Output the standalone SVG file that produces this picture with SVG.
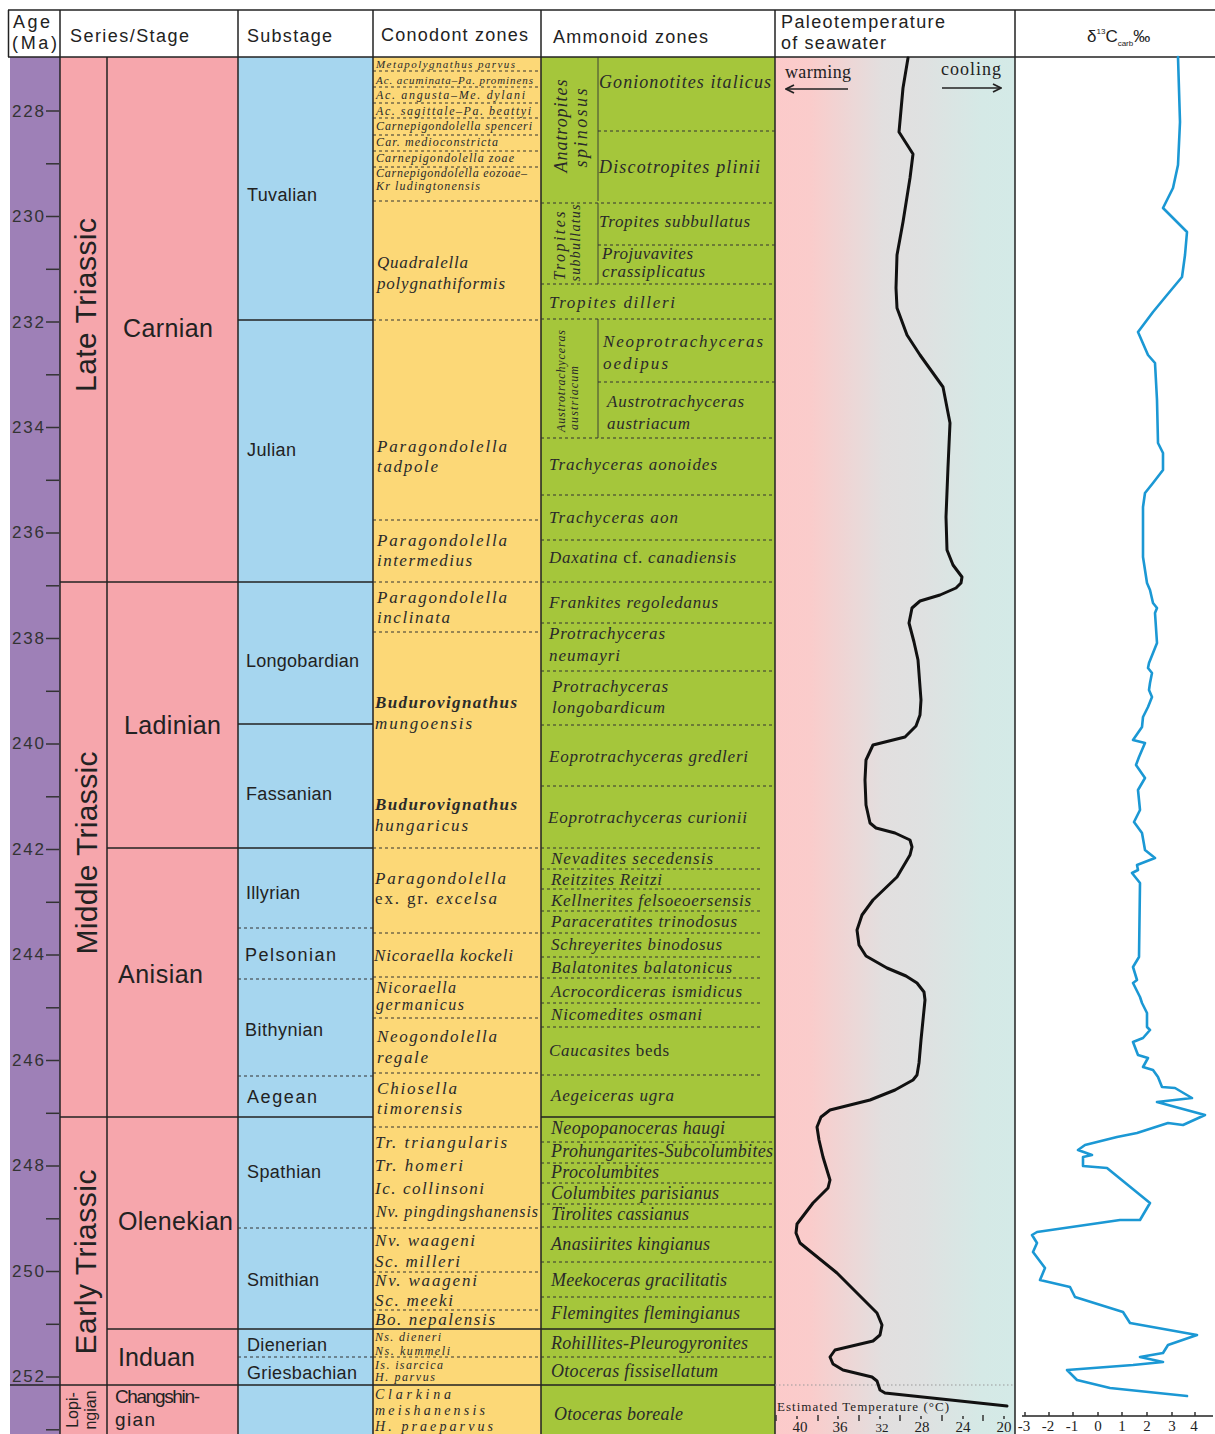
<svg xmlns="http://www.w3.org/2000/svg" width="1215" height="1434" viewBox="0 0 1215 1434">
<defs>
<linearGradient id="tg" x1="0" x2="1" y1="0" y2="0">
<stop offset="0" stop-color="#fccaca"/>
<stop offset="0.15" stop-color="#facccb"/>
<stop offset="0.45" stop-color="#e2dfdf"/>
<stop offset="0.62" stop-color="#dfe1e1"/>
<stop offset="0.86" stop-color="#d5e9e6"/>
<stop offset="1" stop-color="#d4eae7"/>
</linearGradient>
<marker id="chev" viewBox="0 0 10 10" refX="9" refY="5" markerWidth="10" markerHeight="10" markerUnits="userSpaceOnUse" orient="auto">
<path d="M1,1 L9,5 L1,9" fill="none" stroke="#222" stroke-width="1.8"/>
</marker>
<style>
.hd{font-family:"Liberation Sans",Arial,sans-serif;font-size:18px;fill:#222}
.age{font-family:"Liberation Sans",Arial,sans-serif;font-size:17px;fill:#333}
.ser{font-family:"Liberation Sans",Arial,sans-serif;font-size:30px;fill:#222}
.stg{font-family:"Liberation Sans",Arial,sans-serif;font-size:25px;fill:#222}
.sub{font-family:"Liberation Sans",Arial,sans-serif;font-size:18px;fill:#222}
.zn{font-family:"Liberation Serif","Times New Roman",serif;font-style:italic;fill:#2a2a2a;font-size:17px}
.zn.zs{font-size:12px}
.zn.zx{font-size:11px}
.zn.za{font-size:18px}
.zn.z16{font-size:16px}
.zn.z14{font-size:14px}
.zn.z12{font-size:12px}
.rm{font-style:normal}
.bd{font-weight:bold}
.ln{stroke:#222;stroke-width:1.5;fill:none}
.thin{stroke:#333;stroke-width:0.9;fill:none}
.dot{stroke:#333;stroke-width:1;stroke-dasharray:3 3;fill:none}
.tick{stroke:#333;stroke-width:1.5}
.ax{font-family:"Liberation Serif","Times New Roman",serif;font-size:15px;fill:#222}
</style>
</defs>
<rect x="0" y="0" width="1215" height="1434" fill="#fff"/>

<g id="backgrounds">
<rect x="10" y="57" width="50" height="1377" fill="#9e80b7"/>
<rect x="60" y="57" width="178" height="1377" fill="#f6a6ac"/>
<rect x="238" y="57" width="135" height="1377" fill="#a6d6ef"/>
<rect x="373" y="57" width="168" height="1377" fill="#fcd877"/>
<rect x="541" y="57" width="234" height="1377" fill="#a5c63b"/>
<rect x="775" y="57" width="240" height="1377" fill="url(#tg)"/>
</g>

<g id="header">
<line class="ln" x1="8" y1="10" x2="1215" y2="10"/>
<line class="ln" x1="8" y1="57" x2="1215" y2="57"/>
<line class="ln" x1="8.5" y1="10" x2="8.5" y2="57"/>
<text class="hd" x="13" y="28" textLength="37">Age</text>
<text class="hd" x="12" y="49" textLength="45">(Ma)</text>
<text class="hd" x="70" y="42" textLength="119">Series/Stage</text>
<text class="hd" x="247" y="42" textLength="85">Substage</text>
<text class="hd" x="381" y="41" textLength="147">Conodont zones</text>
<text class="hd" x="553" y="43" textLength="155">Ammonoid zones</text>
<text class="hd" x="781" y="28" textLength="164">Paleotemperature</text>
<text class="hd" x="781" y="49" textLength="105">of seawater</text>
<text class="hd" x="1087" y="42" style="font-size:17px">δ<tspan style="font-size:8px" dy="-8">13</tspan><tspan dy="8">C</tspan><tspan style="font-size:8px" dy="4">carb</tspan><tspan dy="-4">‰</tspan></text>
</g>

<g id="grid">
<line class="ln" x1="60" y1="10" x2="60" y2="1434"/>
<line class="ln" x1="107" y1="57" x2="107" y2="1434"/>
<line class="ln" x1="238" y1="10" x2="238" y2="1434"/>
<line class="ln" x1="373" y1="10" x2="373" y2="1434"/>
<line class="ln" x1="541" y1="10" x2="541" y2="1434"/>
<line class="ln" x1="775" y1="10" x2="775" y2="1434"/>
<line class="ln" x1="1015" y1="10" x2="1015" y2="1434"/>
<line class="ln" x1="60" y1="582" x2="373" y2="582"/>
<line class="ln" x1="107" y1="848" x2="373" y2="848"/>
<line class="ln" x1="60" y1="1117" x2="373" y2="1117"/>
<line class="ln" x1="541" y1="1117" x2="775" y2="1117"/>
<line class="ln" x1="107" y1="1329" x2="775" y2="1329"/>
<line class="ln" x1="10" y1="1385" x2="775" y2="1385"/>
<line class="ln" x1="238" y1="320" x2="373" y2="320"/>
<line class="ln" x1="238" y1="724" x2="373" y2="724"/>
<line class="dot" x1="238" y1="928" x2="373" y2="928"/>
<line class="dot" x1="238" y1="979" x2="373" y2="979"/>
<line class="dot" x1="238" y1="1076" x2="373" y2="1076"/>
<line class="dot" x1="238" y1="1228" x2="373" y2="1228"/>
<line class="dot" x1="238" y1="1357" x2="373" y2="1357"/>
</g>

<g id="age-axis">
<g class="tick">
<line x1="46" y1="111" x2="59" y2="111"/><line x1="46" y1="163.8" x2="59" y2="163.8"/>
<line x1="46" y1="216.5" x2="59" y2="216.5"/><line x1="46" y1="269.3" x2="59" y2="269.3"/>
<line x1="46" y1="322" x2="59" y2="322"/><line x1="46" y1="374.8" x2="59" y2="374.8"/>
<line x1="46" y1="427.5" x2="59" y2="427.5"/><line x1="46" y1="480.3" x2="59" y2="480.3"/>
<line x1="46" y1="533" x2="59" y2="533"/><line x1="46" y1="585.8" x2="59" y2="585.8"/>
<line x1="46" y1="638.5" x2="59" y2="638.5"/><line x1="46" y1="691.3" x2="59" y2="691.3"/>
<line x1="46" y1="744" x2="59" y2="744"/><line x1="46" y1="796.8" x2="59" y2="796.8"/>
<line x1="46" y1="849.5" x2="59" y2="849.5"/><line x1="46" y1="902.3" x2="59" y2="902.3"/>
<line x1="46" y1="955" x2="59" y2="955"/><line x1="46" y1="1007.8" x2="59" y2="1007.8"/>
<line x1="46" y1="1060.5" x2="59" y2="1060.5"/><line x1="46" y1="1113.3" x2="59" y2="1113.3"/>
<line x1="46" y1="1166" x2="59" y2="1166"/><line x1="46" y1="1218.8" x2="59" y2="1218.8"/>
<line x1="46" y1="1271.5" x2="59" y2="1271.5"/><line x1="46" y1="1324.3" x2="59" y2="1324.3"/>
<line x1="46" y1="1377" x2="59" y2="1377"/><line x1="46" y1="1429.8" x2="59" y2="1429.8"/>
</g>
<text class="age" x="12" y="117" textLength="32">228</text>
<text class="age" x="12" y="222" textLength="32">230</text>
<text class="age" x="12" y="328" textLength="32">232</text>
<text class="age" x="12" y="433" textLength="32">234</text>
<text class="age" x="12" y="538" textLength="32">236</text>
<text class="age" x="12" y="644" textLength="32">238</text>
<text class="age" x="12" y="749" textLength="32">240</text>
<text class="age" x="12" y="855" textLength="32">242</text>
<text class="age" x="12" y="960" textLength="32">244</text>
<text class="age" x="12" y="1066" textLength="32">246</text>
<text class="age" x="12" y="1171" textLength="32">248</text>
<text class="age" x="12" y="1277" textLength="32">250</text>
<text class="age" x="12" y="1382" textLength="32">252</text>
</g>

<g id="series">
<text class="ser" transform="translate(96,305) rotate(-90)" text-anchor="middle" textLength="174">Late Triassic</text>
<text class="ser" transform="translate(97,853) rotate(-90)" text-anchor="middle" textLength="203">Middle Triassic</text>
<text class="ser" transform="translate(96,1262) rotate(-90)" text-anchor="middle" textLength="185">Early Triassic</text>
<text class="sub" style="font-size:16px" transform="translate(78,1410) rotate(-90)" text-anchor="middle">Lopi-</text>
<text class="sub" style="font-size:16px" transform="translate(96,1410) rotate(-90)" text-anchor="middle">ngian</text>
</g>

<g id="stages">
<text class="stg" x="123" y="337" textLength="90">Carnian</text>
<text class="stg" x="124" y="734" textLength="97">Ladinian</text>
<text class="stg" x="118" y="983" textLength="85">Anisian</text>
<text class="stg" x="118" y="1230" textLength="115">Olenekian</text>
<text class="stg" x="118" y="1366" textLength="77">Induan</text>
<text class="sub" style="font-size:19px" x="115" y="1403" textLength="85">Changshin-</text>
<text class="sub" style="font-size:19px" x="115" y="1426" textLength="40">gian</text>
</g>

<g id="substages">
<text class="sub" x="247" y="201" textLength="70">Tuvalian</text>
<text class="sub" x="247" y="456" textLength="49">Julian</text>
<text class="sub" x="246" y="667" textLength="113">Longobardian</text>
<text class="sub" x="246" y="800" textLength="86">Fassanian</text>
<text class="sub" x="246" y="899" textLength="54">Illyrian</text>
<text class="sub" x="245" y="961" textLength="91">Pelsonian</text>
<text class="sub" x="245" y="1036" textLength="78">Bithynian</text>
<text class="sub" x="247" y="1103" textLength="70">Aegean</text>
<text class="sub" x="247" y="1178" textLength="74">Spathian</text>
<text class="sub" x="247" y="1286" textLength="72">Smithian</text>
<text class="sub" x="247" y="1351" textLength="80">Dienerian</text>
<text class="sub" x="247" y="1379" textLength="110">Griesbachian</text>
</g>

<g id="conodont-zones">
<g>
<line class="dot" x1="373" y1="71" x2="541" y2="71"/>
<line class="dot" x1="373" y1="87" x2="541" y2="87"/>
<line class="dot" x1="373" y1="103" x2="541" y2="103"/>
<line class="dot" x1="373" y1="118" x2="541" y2="118"/>
<line class="dot" x1="373" y1="135" x2="541" y2="135"/>
<line class="dot" x1="373" y1="151" x2="541" y2="151"/>
<line class="dot" x1="373" y1="167" x2="541" y2="167"/>
<line class="dot" x1="373" y1="201" x2="541" y2="201"/>
<line class="dot" x1="373" y1="320" x2="541" y2="320"/>
<line class="dot" x1="373" y1="520" x2="541" y2="520"/>
<line class="dot" x1="373" y1="582" x2="541" y2="582"/>
<line class="dot" x1="373" y1="632" x2="541" y2="632"/>
<line class="dot" x1="373" y1="848" x2="541" y2="848"/>
<line class="dot" x1="373" y1="933" x2="541" y2="933"/>
<line class="dot" x1="373" y1="977" x2="541" y2="977"/>
<line class="dot" x1="373" y1="1018" x2="541" y2="1018"/>
<line class="dot" x1="373" y1="1073" x2="541" y2="1073"/>
<line class="dot" x1="373" y1="1127" x2="541" y2="1127"/>
<line class="dot" x1="373" y1="1228" x2="541" y2="1228"/>
<line class="dot" x1="373" y1="1272" x2="541" y2="1272"/>
<line class="dot" x1="373" y1="1310" x2="541" y2="1310"/>
<line class="dot" x1="373" y1="1357" x2="541" y2="1357"/>
</g>
<text class="zn zx" x="376" y="68" textLength="139">Metapolygnathus parvus</text>
<text class="zn zx" x="376" y="84" textLength="157">Ac. acuminata–Pa. prominens</text>
<text class="zn zs" x="376" y="99" textLength="149">Ac. angusta–Me. dylani</text>
<text class="zn zs" x="376" y="115" textLength="155">Ac. sagittale–Pa. beattyi</text>
<text class="zn zs" x="376" y="130" textLength="156">Carnepigondolella spenceri</text>
<text class="zn zs" x="376" y="146" textLength="122">Car. medioconstricta</text>
<text class="zn zs" x="376" y="162" textLength="138">Carnepigondolella zoae</text>
<text class="zn zs" x="376" y="177" textLength="151">Carnepigondolella eozoae–</text>
<text class="zn zs" x="376" y="190" textLength="104">Kr ludingtonensis</text>
<text class="zn" x="377" y="268" textLength="91">Quadralella</text>
<text class="zn" x="377" y="289" textLength="128">polygnathiformis</text>
<text class="zn" x="377" y="452" textLength="130">Paragondolella</text>
<text class="zn" x="377" y="472" textLength="61">tadpole</text>
<text class="zn" x="377" y="546" textLength="130">Paragondolella</text>
<text class="zn" x="377" y="566" textLength="95">intermedius</text>
<text class="zn" x="377" y="603" textLength="130">Paragondolella</text>
<text class="zn" x="377" y="623" textLength="73">inclinata</text>
<text class="zn bd" x="375" y="708" textLength="142">Budurovignathus</text>
<text class="zn" x="375" y="729" textLength="97">mungoensis</text>
<text class="zn bd" x="375" y="810" textLength="142">Budurovignathus</text>
<text class="zn" x="375" y="831" textLength="93">hungaricus</text>
<text class="zn" x="375" y="884" textLength="131">Paragondolella</text>
<text class="zn" x="375" y="904" textLength="122"><tspan class="rm">ex. gr. </tspan>excelsa</text>
<text class="zn" x="374" y="961" textLength="139">Nicoraella kockeli</text>
<text class="zn z16" x="376" y="993" textLength="80">Nicoraella</text>
<text class="zn z16" x="376" y="1010" textLength="88">germanicus</text>
<text class="zn" x="377" y="1042" textLength="120">Neogondolella</text>
<text class="zn" x="377" y="1063" textLength="51">regale</text>
<text class="zn" x="377" y="1094" textLength="80">Chiosella</text>
<text class="zn" x="377" y="1114" textLength="85">timorensis</text>
<text class="zn" x="375" y="1148" textLength="132">Tr.  triangularis</text>
<text class="zn" x="375" y="1171" textLength="88">Tr.  homeri</text>
<text class="zn" x="375" y="1194" textLength="109">Ic. collinsoni</text>
<text class="zn z16" x="376" y="1217" textLength="162">Nv. pingdingshanensis</text>
<text class="zn" x="375" y="1246" textLength="100">Nv. waageni</text>
<text class="zn" x="375" y="1267" textLength="85">Sc. milleri</text>
<text class="zn" x="375" y="1286" textLength="102">Nv. waageni</text>
<text class="zn" x="375" y="1306" textLength="78">Sc. meeki</text>
<text class="zn" x="375" y="1325" textLength="120">Bo. nepalensis</text>
<text class="zn zs" x="375" y="1341" textLength="66">Ns. dieneri</text>
<text class="zn zs" x="375" y="1355" textLength="75">Ns. kummeli</text>
<text class="zn zs" x="375" y="1369" textLength="68">Is. isarcica</text>
<text class="zn zs" x="375" y="1381" textLength="60">H. parvus</text>
<text class="zn z14" x="375" y="1399" textLength="76">Clarkina</text>
<text class="zn z14" x="375" y="1415" textLength="110">meishanensis</text>
<text class="zn z14" x="375" y="1431" textLength="118">H. praeparvus</text>
</g>

<g id="ammonoid-zones">
<g>
<line class="thin" x1="598" y1="57" x2="598" y2="201"/>
<line class="thin" x1="598" y1="203" x2="598" y2="284"/>
<line class="thin" x1="598" y1="319" x2="598" y2="438"/>
<line class="dot" x1="598" y1="131" x2="775" y2="131"/>
<line class="dot" x1="541" y1="203" x2="775" y2="203"/>
<line class="dot" x1="598" y1="245" x2="775" y2="245"/>
<line class="dot" x1="541" y1="284" x2="775" y2="284"/>
<line class="dot" x1="541" y1="319" x2="775" y2="319"/>
<line class="dot" x1="598" y1="382" x2="775" y2="382"/>
<line class="dot" x1="541" y1="438" x2="775" y2="438"/>
<line class="dot" x1="541" y1="495" x2="775" y2="495"/>
<line class="dot" x1="541" y1="540" x2="775" y2="540"/>
<line class="dot" x1="541" y1="582" x2="775" y2="582"/>
<line class="dot" x1="541" y1="623" x2="775" y2="623"/>
<line class="dot" x1="541" y1="671" x2="775" y2="671"/>
<line class="dot" x1="541" y1="725" x2="775" y2="725"/>
<line class="dot" x1="541" y1="786" x2="775" y2="786"/>
<line class="dot" x1="541" y1="848" x2="760" y2="848"/>
<line class="dot" x1="541" y1="869" x2="760" y2="869"/>
<line class="dot" x1="541" y1="889" x2="760" y2="889"/>
<line class="dot" x1="541" y1="911" x2="760" y2="911"/>
<line class="dot" x1="541" y1="933" x2="760" y2="933"/>
<line class="dot" x1="541" y1="957" x2="760" y2="957"/>
<line class="dot" x1="541" y1="978" x2="760" y2="978"/>
<line class="dot" x1="541" y1="1003" x2="760" y2="1003"/>
<line class="dot" x1="541" y1="1027" x2="760" y2="1027"/>
<line class="dot" x1="541" y1="1075" x2="760" y2="1075"/>
<line class="dot" x1="541" y1="1142" x2="775" y2="1142"/>
<line class="dot" x1="541" y1="1163" x2="775" y2="1163"/>
<line class="dot" x1="541" y1="1183" x2="775" y2="1183"/>
<line class="dot" x1="541" y1="1204" x2="775" y2="1204"/>
<line class="dot" x1="541" y1="1227" x2="775" y2="1227"/>
<line class="dot" x1="541" y1="1262" x2="775" y2="1262"/>
<line class="dot" x1="541" y1="1297" x2="775" y2="1297"/>
<line class="dot" x1="541" y1="1357" x2="775" y2="1357"/>
</g>
<text class="zn za" transform="translate(567,126) rotate(-90)" text-anchor="middle" textLength="93">Anatropites</text>
<text class="zn za" transform="translate(587,128) rotate(-90)" text-anchor="middle" textLength="79">spinosus</text>
<text class="zn z16" transform="translate(565,246) rotate(-90)" text-anchor="middle" textLength="69">Tropites</text>
<text class="zn z14" transform="translate(580,243) rotate(-90)" text-anchor="middle" textLength="77">subbullatus</text>
<text class="zn z12" transform="translate(565,381) rotate(-90)" text-anchor="middle" textLength="102">Austrotrachyceras</text>
<text class="zn z12" transform="translate(578,398) rotate(-90)" text-anchor="middle" textLength="64">austriacum</text>
<text class="zn za" x="599" y="88" textLength="172">Gonionotites italicus</text>
<text class="zn za" x="599" y="173" textLength="161">Discotropites plinii</text>
<text class="zn" x="599" y="227" textLength="151">Tropites subbullatus</text>
<text class="zn" x="602" y="259" textLength="91">Projuvavites</text>
<text class="zn" x="602" y="277" textLength="103">crassiplicatus</text>
<text class="zn" x="549" y="308" textLength="126">Tropites  dilleri</text>
<text class="zn" x="603" y="347" textLength="160">Neoprotrachyceras</text>
<text class="zn" x="603" y="369" textLength="65">oedipus</text>
<text class="zn" x="607" y="407" textLength="137">Austrotrachyceras</text>
<text class="zn" x="607" y="429" textLength="83">austriacum</text>
<text class="zn" x="549" y="470" textLength="168">Trachyceras  aonoides</text>
<text class="zn" x="549" y="523" textLength="129">Trachyceras  aon</text>
<text class="zn" x="549" y="563" textLength="187">Daxatina <tspan class="rm">cf.</tspan> canadiensis</text>
<text class="zn" x="549" y="608" textLength="169">Frankites regoledanus</text>
<text class="zn" x="549" y="639" textLength="116">Protrachyceras</text>
<text class="zn" x="549" y="661" textLength="71">neumayri</text>
<text class="zn" x="552" y="692" textLength="116">Protrachyceras</text>
<text class="zn" x="552" y="713" textLength="113">longobardicum</text>
<text class="zn" x="549" y="762" textLength="199">Eoprotrachyceras gredleri</text>
<text class="zn" x="548" y="823" textLength="199">Eoprotrachyceras curionii</text>
<text class="zn" x="551" y="864" textLength="162">Nevadites  secedensis</text>
<text class="zn" x="551" y="885" textLength="111">Reitzites Reitzi</text>
<text class="zn" x="551" y="906" textLength="200">Kellnerites felsoeoersensis</text>
<text class="zn" x="551" y="927" textLength="186">Paraceratites trinodosus</text>
<text class="zn" x="551" y="950" textLength="171">Schreyerites binodosus</text>
<text class="zn" x="551" y="973" textLength="181">Balatonites  balatonicus</text>
<text class="zn" x="551" y="997" textLength="191">Acrocordiceras ismidicus</text>
<text class="zn" x="551" y="1020" textLength="151">Nicomedites osmani</text>
<text class="zn" x="549" y="1056" textLength="120">Caucasites<tspan class="rm"> beds</tspan></text>
<text class="zn" x="551" y="1101" textLength="123">Aegeiceras ugra</text>
<text class="zn za" x="551" y="1134" textLength="174">Neopopanoceras haugi</text>
<text class="zn za" x="551" y="1157" textLength="222">Prohungarites-Subcolumbites</text>
<text class="zn za" x="551" y="1178" textLength="108">Procolumbites</text>
<text class="zn za" x="551" y="1199" textLength="168">Columbites parisianus</text>
<text class="zn za" x="551" y="1220" textLength="138">Tirolites cassianus</text>
<text class="zn za" x="551" y="1250" textLength="159">Anasiirites kingianus</text>
<text class="zn za" x="551" y="1286" textLength="176">Meekoceras gracilitatis</text>
<text class="zn za" x="551" y="1319" textLength="189">Flemingites flemingianus</text>
<text class="zn za" x="551" y="1349" textLength="197">Rohillites-Pleurogyronites</text>
<text class="zn za" x="551" y="1377" textLength="167">Otoceras fissisellatum</text>
<text class="zn za" x="554" y="1420" textLength="129">Otoceras boreale</text>
</g>

<g id="paleotemperature">
<line x1="775" y1="1385" x2="1015" y2="1385" stroke="#999" stroke-width="1" stroke-dasharray="1.5 2.5"/>
<text class="ax" x="785" y="78" style="font-size:18px" textLength="66">warming</text>
<line x1="848" y1="89" x2="786" y2="89" stroke="#222" stroke-width="1.6" marker-end="url(#chev)"/>
<text class="ax" x="941" y="75" style="font-size:18px" textLength="60">cooling</text>
<line x1="942" y1="88" x2="1001" y2="88" stroke="#222" stroke-width="1.6" marker-end="url(#chev)"/>
<polyline fill="none" stroke="#111" stroke-width="3" stroke-linejoin="round" stroke-linecap="round" points="908,58 903,88 899,132 913,154 910,178 903,222 897,255 896,288 897,308 907,335 920,355 943,387 950,423 948,467 946,517 947,550 953,565 962,577 961,583 956,588 940,595 920,601 912,608 909,623 914,642 918,660 921,700 920,715 916,726 905,737 873,745 866,760 865,780 866,805 870,823 876,828 895,833 910,840 912,847 910,855 897,877 873,900 862,915 857,930 859,945 866,956 887,968 906,976 917,983 924,992 925,1000 921,1040 919,1063 917,1075 913,1080 895,1090 870,1100 830,1110 821,1117 817,1127 819,1140 823,1157 830,1180 828,1188 813,1203 797,1224 796,1233 800,1243 837,1273 877,1313 882,1325 880,1335 873,1341 835,1350 830,1357 833,1364 843,1370 872,1377 877,1381 880,1390 885,1393 1007,1406"/>
<text class="ax" x="777" y="1411" style="font-size:13px" textLength="172">Estimated Temperature (°C)</text>
<g class="tick" stroke-width="1.3">
<line x1="776" y1="1415" x2="776" y2="1421"/>
<line x1="797" y1="1416" x2="797" y2="1419"/>
<line x1="818" y1="1415" x2="818" y2="1421"/>
<line x1="838" y1="1416" x2="838" y2="1419"/>
<line x1="859" y1="1415" x2="859" y2="1421"/>
<line x1="880" y1="1416" x2="880" y2="1419"/>
<line x1="900" y1="1415" x2="900" y2="1421"/>
<line x1="921" y1="1416" x2="921" y2="1419"/>
<line x1="942" y1="1415" x2="942" y2="1421"/>
<line x1="963" y1="1416" x2="963" y2="1419"/>
<line x1="983" y1="1415" x2="983" y2="1421"/>
<line x1="1004" y1="1416" x2="1004" y2="1419"/>
</g>
<text class="ax" x="800" y="1432" text-anchor="middle">40</text>
<text class="ax" x="840" y="1432" text-anchor="middle">36</text>
<text class="ax" x="882" y="1432" text-anchor="middle" style="font-size:13px">32</text>
<text class="ax" x="922" y="1432" text-anchor="middle">28</text>
<text class="ax" x="963" y="1432" text-anchor="middle">24</text>
<text class="ax" x="1004" y="1432" text-anchor="middle">20</text>
</g>

<g id="d13c">
<polyline fill="none" stroke="#1b98d4" stroke-width="2.6" stroke-linejoin="round" stroke-linecap="round" points="1178,57 1180,122 1178,165 1173,188 1163,208 1187,232 1185,255 1182,277 1167,295 1153,312 1138,332 1148,355 1155,363 1157,400 1158,443 1163,453 1163,470 1153,483 1145,493 1143,507 1143,557 1147,583 1150,590 1153,603 1157,608 1155,613 1157,643 1149,663 1148,668 1152,673 1150,683 1149,690 1152,697 1148,707 1143,717 1142,727 1133,740 1145,743 1139,757 1136,765 1145,778 1138,790 1140,810 1134,822 1142,833 1145,850 1155,858 1137,865 1138,870 1132,873 1140,883 1139,957 1133,967 1137,980 1133,983 1140,997 1142,1003 1147,1013 1147,1027 1150,1030 1143,1038 1133,1042 1138,1055 1148,1058 1143,1067 1153,1070 1158,1077 1162,1087 1175,1088 1192,1098 1157,1102 1205,1115 1183,1125 1168,1123 1137,1133 1117,1137 1085,1145 1078,1150 1092,1155 1083,1157 1083,1166 1107,1168 1150,1203 1140,1220 1120,1220 1037,1232 1032,1235 1037,1243 1033,1252 1045,1268 1040,1280 1070,1287 1075,1297 1123,1312 1130,1323 1197,1335 1168,1345 1163,1353 1140,1357 1163,1362 1133,1365 1067,1370 1077,1380 1110,1388 1187,1396"/>
<line x1="1022" y1="1416" x2="1213" y2="1416" stroke="#222" stroke-width="1.3"/>
<g class="tick" stroke-width="1.2">
<line x1="1025" y1="1412" x2="1025" y2="1416"/>
<line x1="1049" y1="1412" x2="1049" y2="1416"/>
<line x1="1073" y1="1412" x2="1073" y2="1416"/>
<line x1="1098" y1="1412" x2="1098" y2="1416"/>
<line x1="1122" y1="1412" x2="1122" y2="1416"/>
<line x1="1147" y1="1412" x2="1147" y2="1416"/>
<line x1="1172" y1="1412" x2="1172" y2="1416"/>
<line x1="1195" y1="1412" x2="1195" y2="1416"/>
</g>
<text class="ax" x="1024" y="1431" text-anchor="middle">-3</text>
<text class="ax" x="1048" y="1431" text-anchor="middle">-2</text>
<text class="ax" x="1072" y="1431" text-anchor="middle">-1</text>
<text class="ax" x="1098" y="1431" text-anchor="middle">0</text>
<text class="ax" x="1122" y="1431" text-anchor="middle">1</text>
<text class="ax" x="1147" y="1431" text-anchor="middle">2</text>
<text class="ax" x="1172" y="1431" text-anchor="middle">3</text>
<text class="ax" x="1194" y="1431" text-anchor="middle">4</text>
</g>
</svg>
